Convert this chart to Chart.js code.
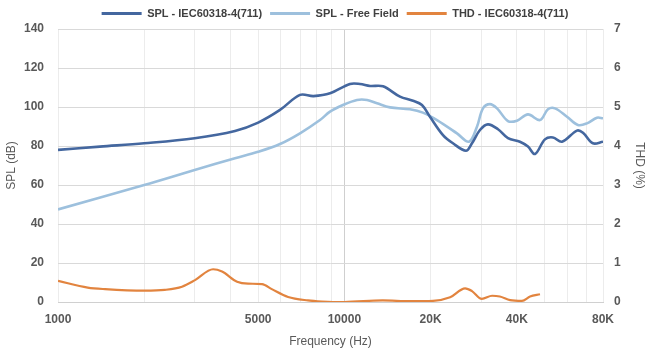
<!DOCTYPE html>
<html>
<head>
<meta charset="utf-8">
<script src="https://cdn.jsdelivr.net/npm/chart.js@4/dist/chart.umd.min.js"></script>
<style>
  html, body { margin: 0; padding: 0; background: #ffffff; }
  #wrap { width: 650px; height: 351px; position: relative; }
</style>
</head>
<body>
<div id="wrap"><canvas id="c" width="650" height="351"></canvas></div>
<script>
// ---- Data ----
const seriesNames = ['SPL - IEC60318-4(711)', 'SPL - Free Field', 'THD - IEC60318-4(711)'];

const splIecFreq = [1000, 1400, 2000, 3000, 4150, 5000, 5960, 7000, 7800, 8910, 10460, 11340, 12290, 13640,
  15640, 17360, 18660, 19900, 22100, 23940, 26580, 27900, 29750, 31720, 34390, 37260, 41030, 43760,
  46300, 50160, 53500, 57530, 64900, 68100, 73800, 80000];
const splIecDb = [78, 79.7, 81.4, 84, 87.7, 92, 98.5, 106.2, 105.6, 107, 111.8, 111.8, 110.8, 110.6,
  105.3, 103.2, 101, 95, 85.6, 81.4, 77.6, 81.4, 88.2, 91.1, 88.6, 84, 82.2, 79.7,
  75.9, 83.4, 84.4, 82.2, 87.9, 86.8, 81.4, 82.2];

const freeFieldFreq = [1000, 2000, 3000, 4150, 5000, 5960, 7000, 8220, 8910, 9890, 11070, 12000, 13000,
  14430, 16940, 18800, 21050, 24730, 27230, 29040, 30470, 32240, 34120, 37260, 40060, 43760, 48190,
  51390, 54370, 59880, 65410, 70330, 76210, 80000];
const freeFieldDb = [47.5, 60, 67.7, 73.7, 77, 81, 86.5, 93.3, 97.6, 101, 103.6, 103.6, 101.9,
  99.8, 98.8, 97.1, 93.3, 86.5, 82.2, 89.9, 99.3, 101.5, 99.3, 92.8, 93, 96.2, 93.3,
  98.8, 99.3, 95, 90.8, 91.6, 94.5, 94.2];

const thdFreq = [1000, 1270, 1460, 2010, 2360, 2710, 3010, 3480, 3740, 4220, 4610, 5160, 5580, 6360,
  7460, 8350, 9120, 10000, 13600, 17000, 20400, 23400, 26400, 27900, 30200, 32800, 34900, 37900,
  41700, 44500, 48200];
const thdPct = [0.54, 0.37, 0.33, 0.29, 0.31, 0.39, 0.56, 0.84, 0.78, 0.52, 0.47, 0.46, 0.33, 0.13,
  0.04, 0.01, 0.0, 0.0, 0.04, 0.02, 0.03, 0.12, 0.35, 0.28, 0.08, 0.16, 0.14, 0.05,
  0.03, 0.14, 0.2];

// x-axis tick positions (grid lines) and the labelled ones
const xGridTicks = [1000, 2000, 3000, 4000, 5000, 6000, 7000, 8000, 9000, 10000,
  20000, 30000, 40000, 50000, 60000, 70000, 80000];
const xTickValues = [1000, 5000, 10000, 20000, 40000, 80000];
const xTickLabels = ['1000', '5000', '10000', '20K', '40K', '80K'];

const splTicks = [0, 20, 40, 60, 80, 100, 120, 140];
const thdTicks = [0, 1, 2, 3, 4, 5, 6, 7];

// ---- helpers ----
const toPoints = (xs, ys) => xs.map((x, i) => ({ x: x, y: ys[i] }));

const FONT = "'Liberation Sans', sans-serif";
const TICK_COLOR = '#595959';

const legendFit = {
  id: 'legendFit',
  beforeInit(chart) {
    const orig = chart.legend.fit;
    chart.legend.fit = function () {
      orig.bind(chart.legend)();
      this.height = 29;
    };
  },
  afterLayout(chart) {
    if (chart.legend) {
      chart.legend.left += 10;
      chart.legend.right += 10;
    }
  }
};

new Chart(document.getElementById('c'), {
  type: 'line',
  data: {
    datasets: [
      {
        label: seriesNames[0],
        data: toPoints(splIecFreq, splIecDb),
        borderColor: '#44679F',
        backgroundColor: '#44679F',
        borderWidth: 2.6,
        pointRadius: 0,
        tension: 0.35,
        yAxisID: 'y'
      },
      {
        label: seriesNames[1],
        data: toPoints(freeFieldFreq, freeFieldDb),
        borderColor: '#9DC0DD',
        backgroundColor: '#9DC0DD',
        borderWidth: 2.6,
        pointRadius: 0,
        tension: 0.35,
        yAxisID: 'y'
      },
      {
        label: seriesNames[2],
        data: toPoints(thdFreq, thdPct),
        borderColor: '#E2843F',
        backgroundColor: '#E2843F',
        borderWidth: 2.2,
        pointRadius: 0,
        cubicInterpolationMode: 'monotone',
        yAxisID: 'y1'
      }
    ]
  },
  options: {
    responsive: false,
    animation: false,
    layout: { padding: 0 },
    plugins: {
      tooltip: { enabled: false },
      legend: {
        position: 'top',
        labels: {
          boxWidth: 40,
          boxHeight: 3,
          padding: 8,
          color: '#404040',
          font: { family: FONT, size: 11, weight: 'bold' },
          generateLabels(chart) {
            return chart.data.datasets.map((ds, i) => ({
              text: ds.label,
              fillStyle: ds.borderColor,
              strokeStyle: ds.borderColor,
              lineWidth: 0,
              hidden: false,
              datasetIndex: i,
              fontColor: '#404040'
            }));
          }
        }
      }
    },
    scales: {
      x: {
        type: 'logarithmic',
        min: 1000,
        max: 80000,
        afterBuildTicks(scale) {
          scale.ticks = xGridTicks.map(v => ({ value: v }));
        },
        afterFit(scale) { scale.height = 49; },
        ticks: {
          autoSkip: false,
          maxRotation: 0,
          padding: 10,
          color: TICK_COLOR,
          font: { family: FONT, size: 12, weight: 'bold' },
          callback(value) {
            const i = xTickValues.indexOf(value);
            return i >= 0 ? xTickLabels[i] : '';
          }
        },
        grid: {
          drawTicks: false,
          color(ctx) {
            const v = ctx.tick && ctx.tick.value;
            return v === 10000 ? '#cfcfcf' : '#ececec';
          },
          lineWidth: 1
        },
        border: { display: true, color: '#d0d0d0' },
        title: {
          display: true,
          text: 'Frequency (Hz)',
          color: TICK_COLOR,
          font: { family: FONT, size: 12 },
          padding: { top: 0, bottom: 2 }
        }
      },
      y: {
        position: 'left',
        min: 0,
        max: 140,
        afterBuildTicks(scale) {
          scale.ticks = splTicks.map(v => ({ value: v }));
        },
        afterFit(scale) { scale.width = 58; },
        ticks: {
          padding: 14,
          color: TICK_COLOR,
          font: { family: FONT, size: 12, weight: 'bold' }
        },
        grid: { drawTicks: false, color: '#d9d9d9' },
        border: { display: false },
        title: {
          display: true,
          text: 'SPL (dB)',
          color: TICK_COLOR,
          font: { family: FONT, size: 12 },
          padding: { top: 4, bottom: 0 }
        }
      },
      y1: {
        position: 'right',
        min: 0,
        max: 7,
        afterBuildTicks(scale) {
          scale.ticks = thdTicks.map(v => ({ value: v }));
        },
        afterFit(scale) { scale.width = 47; },
        ticks: {
          padding: 11,
          color: TICK_COLOR,
          font: { family: FONT, size: 12, weight: 'bold' }
        },
        grid: { display: false, drawTicks: false },
        border: { display: false },
        title: {
          display: true,
          text: 'THD (%)',
          color: TICK_COLOR,
          font: { family: FONT, size: 12 },
          padding: { top: 3, bottom: 0 }
        }
      }
    }
  },
  plugins: [legendFit]
});
</script>
</body>
</html>
